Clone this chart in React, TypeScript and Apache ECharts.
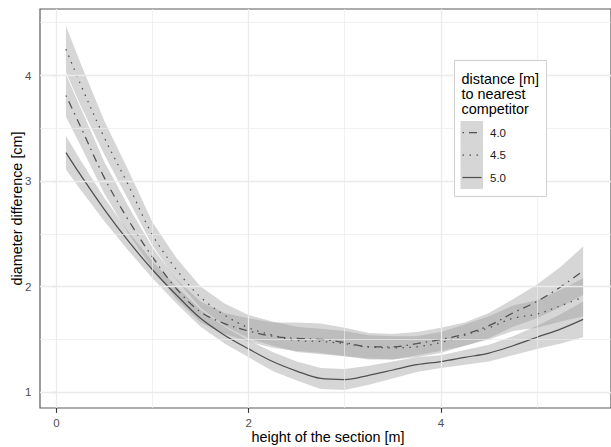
import React, { useEffect, useRef } from "react";
import * as echarts from "echarts";

// x positions (height of the section [m])
const X = [0.1, 0.25, 0.5, 0.75, 1.0, 1.25, 1.5, 1.75, 2.0, 2.25, 2.5, 2.75, 3.0, 3.25, 3.5, 3.75, 4.0, 4.25, 4.5, 4.75, 5.0, 5.25, 5.48];

// distance 4.0 m (dot-dash)
const FIT_40 = [3.81, 3.52, 3.03, 2.63, 2.28, 1.98, 1.76, 1.65, 1.58, 1.53, 1.51, 1.50, 1.47, 1.43, 1.43, 1.46, 1.50, 1.55, 1.63, 1.75, 1.86, 2.00, 2.15];
const LO_40 = [3.61, 3.34, 2.88, 2.50, 2.17, 1.88, 1.66, 1.55, 1.48, 1.42, 1.39, 1.37, 1.34, 1.31, 1.31, 1.35, 1.39, 1.44, 1.51, 1.62, 1.70, 1.81, 1.92];
const HI_40 = [4.01, 3.70, 3.18, 2.76, 2.37, 2.07, 1.86, 1.75, 1.70, 1.66, 1.66, 1.65, 1.61, 1.56, 1.55, 1.57, 1.61, 1.66, 1.75, 1.88, 2.02, 2.19, 2.38];

// distance 4.5 m (dotted)
const FIT_45 = [4.25, 3.92, 3.41, 2.96, 2.49, 2.16, 1.90, 1.73, 1.61, 1.54, 1.49, 1.48, 1.46, 1.43, 1.42, 1.43, 1.47, 1.54, 1.61, 1.70, 1.74, 1.82, 1.90];
const LO_45 = [4.03, 3.72, 3.25, 2.82, 2.39, 2.06, 1.80, 1.63, 1.51, 1.44, 1.38, 1.36, 1.34, 1.32, 1.31, 1.33, 1.37, 1.44, 1.50, 1.58, 1.61, 1.67, 1.72];
const HI_45 = [4.47, 4.12, 3.57, 3.10, 2.61, 2.27, 2.00, 1.84, 1.73, 1.67, 1.62, 1.60, 1.58, 1.54, 1.53, 1.53, 1.57, 1.64, 1.72, 1.82, 1.87, 1.97, 2.08];

// distance 5.0 m (solid)
const FIT_50 = [3.27, 3.06, 2.73, 2.43, 2.16, 1.92, 1.70, 1.54, 1.41, 1.29, 1.20, 1.13, 1.12, 1.16, 1.21, 1.26, 1.29, 1.33, 1.37, 1.44, 1.52, 1.60, 1.69];
const LO_50 = [3.11, 2.92, 2.62, 2.34, 2.08, 1.84, 1.62, 1.46, 1.33, 1.20, 1.11, 1.03, 1.02, 1.07, 1.13, 1.19, 1.23, 1.26, 1.29, 1.35, 1.41, 1.46, 1.52];
const HI_50 = [3.43, 3.20, 2.84, 2.52, 2.24, 2.00, 1.78, 1.62, 1.49, 1.38, 1.29, 1.23, 1.22, 1.25, 1.29, 1.33, 1.35, 1.40, 1.45, 1.53, 1.63, 1.74, 1.86];

const X_TICKS = [0, 2, 4];
const X_MINOR = [1, 3, 5];
const Y_TICKS = [1, 2, 3, 4];
const Y_MINOR = [1.5, 2.5, 3.5, 4.5];

const LEGEND_TITLE = ["distance [m]", "to nearest", "competitor"];
const LEGEND_LABELS = ["4.0", "4.5", "5.0"];

const FONT = "'Liberation Sans', Arial, sans-serif";
const LINE_COLOR = "#505050";
const RIBBON = "rgba(153,153,153,0.4)";
const DASHES: (number[] | "solid")[] = [[1.5, 5, 8, 5], [1.5, 5.5], "solid"];

const pairs = (ys: number[]) => X.map((x, i) => [x, ys[i]]);

function ribbonAndLine(key: string, lo: number[], hi: number[], fit: number[], dash: number[] | "solid") {
  return [
    {
      type: "custom", name: key + "band", silent: true, clip: false,
      data: [[X[0], lo[0]]],
      encode: { x: 0, y: 1 },
      renderItem: (_params: any, api: any) => {
        const upper = X.map((x, i) => api.coord([x, hi[i]]));
        const lower = X.map((x, i) => api.coord([x, lo[i]])).reverse();
        return {
          type: "polygon",
          shape: { points: [...upper, ...lower] },
          style: { fill: RIBBON },
        };
      },
    },
    {
      type: "line", name: key, data: pairs(fit), symbol: "none", smooth: 0.35, silent: true,
      lineStyle: { color: LINE_COLOR, width: 1.25, type: dash },
    },
  ];
}

export default function App() {
  const ref = useRef<HTMLDivElement>(null);
  useEffect(() => {
    if (!ref.current) return;
    const chart = echarts.init(ref.current, null, { renderer: "svg" });
    const gridLines = [
      ...X_TICKS.map((v) => ({ xAxis: v, lineStyle: { width: 1.3 } })),
      ...X_MINOR.map((v) => ({ xAxis: v, lineStyle: { width: 0.7 } })),
      ...Y_TICKS.map((v) => ({ yAxis: v, lineStyle: { width: 1.3 } })),
      ...Y_MINOR.map((v) => ({ yAxis: v, lineStyle: { width: 0.7 } })),
    ];
    const rowY = [132.5, 155, 177.5];
    const Z = 100;
    const graphic: any[] = [
      {
        type: "text", x: 328, y: 437, z: Z,
        style: { text: "height of the section [m]", font: `14.4px ${FONT}`, fill: "#000", align: "center", verticalAlign: "middle" },
      },
      {
        type: "text", x: 17, y: 208.5, rotation: Math.PI / 2, z: Z,
        style: { text: "diameter difference [cm]", font: `14.4px ${FONT}`, fill: "#000", align: "center", verticalAlign: "middle" },
      },
      {
        type: "rect", shape: { x: 454.5, y: 60.5, width: 92, height: 136 }, z: Z,
        style: { fill: "#ffffff", stroke: "#cfcfcf", lineWidth: 1 },
      },
      ...LEGEND_TITLE.map((t, i) => ({
        type: "text", x: 461.5, y: 78.5 + i * 15.3, z: Z + 1,
        style: { text: t, font: `14.4px ${FONT}`, fill: "#000", align: "left", verticalAlign: "middle" },
      })),
      ...LEGEND_LABELS.map((t, i) => ({
        type: "rect", shape: { x: 460.5, y: rowY[i] - 11.5, width: 22.5, height: 23 }, z: Z + 1,
        style: { fill: "#d6d6d6" },
      })),
      ...LEGEND_LABELS.map((t, i) => ({
        type: "line", shape: { x1: 462.5, y1: rowY[i], x2: 481.5, y2: rowY[i] }, z: Z + 2,
        style: { stroke: LINE_COLOR, lineWidth: 1.25, lineDash: DASHES[i] === "solid" ? null : DASHES[i] },
      })),
      ...LEGEND_LABELS.map((t, i) => ({
        type: "text", x: 490, y: rowY[i], z: Z + 2,
        style: { text: t, font: `11.5px ${FONT}`, fill: "#1a1a1a", align: "left", verticalAlign: "middle" },
      })),
    ];
    chart.setOption({
      animation: false,
      backgroundColor: "#ffffff",
      textStyle: { fontFamily: FONT },
      grid: {
        left: 40, top: 9, width: 576, height: 399, show: true,
        borderColor: "#5a5a5a", borderWidth: 1.2, backgroundColor: "#ffffff",
      },
      xAxis: {
        type: "value", min: -0.17, max: 5.77,
        axisLine: { show: false },
        splitLine: { show: false },
        axisTick: { show: true, length: 4.8, lineStyle: { color: "#333333", width: 1.1 }, customValues: X_TICKS },
        axisLabel: { customValues: X_TICKS, margin: 8.6, fontSize: 11.5, color: "#4d4d4d", fontFamily: FONT },
      },
      yAxis: {
        type: "value", min: 0.85, max: 4.63,
        axisLine: { show: false },
        splitLine: { show: false },
        axisTick: { show: true, length: 4.8, lineStyle: { color: "#333333", width: 1.1 }, customValues: Y_TICKS },
        axisLabel: { customValues: Y_TICKS, margin: 8.6, fontSize: 11.5, color: "#4d4d4d", fontFamily: FONT },
      },
      series: [
        {
          type: "line", name: "grid", data: [[X[0], FIT_50[0]]], symbol: "none", silent: true,
          lineStyle: { opacity: 0 }, z: 1,
          markLine: {
            silent: true, symbol: ["none", "none"], label: { show: false },
            lineStyle: { color: "#ebebeb", type: "solid" },
            data: gridLines,
          },
        },
        ...ribbonAndLine("r40", LO_40, HI_40, FIT_40, DASHES[0]),
        ...ribbonAndLine("r45", LO_45, HI_45, FIT_45, DASHES[1]),
        ...ribbonAndLine("r50", LO_50, HI_50, FIT_50, DASHES[2]),
      ],
      graphic,
    });
    return () => chart.dispose();
  }, []);
  return <div ref={ref} style={{ position: "fixed", left: 0, top: 0, width: 611, height: 447 }} />;
}
